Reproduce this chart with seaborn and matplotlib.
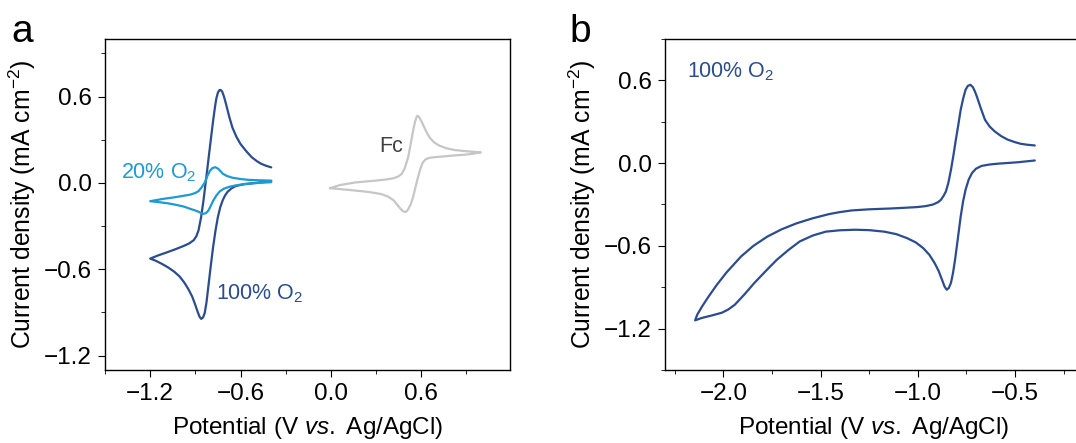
import matplotlib
matplotlib.use("Agg")
import matplotlib.pyplot as plt
import seaborn as sns
from matplotlib.ticker import MultipleLocator, FuncFormatter

# ---- data (potential in V vs Ag/AgCl, current in mA cm^-2) ----
# panel a, 100% O2: cathodic sweep from -0.4 V to the -1.2 V vertex, then back
o2_100_v = [-0.396, -0.461, -0.525, -0.580, -0.632, -0.660, -0.686, -0.703, -0.718, -0.735,
            -0.750, -0.766, -0.782, -0.798, -0.814, -0.826, -0.838, -0.849, -0.861, -0.872,
            -0.885, -0.903, -0.921, -0.948, -0.975, -1.005, -1.039, -1.080, -1.125, -1.165, -1.200,
            -1.150, -1.082, -1.030, -0.975, -0.940, -0.911, -0.893, -0.879, -0.862, -0.846,
            -0.830, -0.814, -0.798, -0.782, -0.770, -0.761, -0.750, -0.740, -0.733, -0.722,
            -0.710, -0.696, -0.675, -0.654, -0.627, -0.600, -0.560, -0.525, -0.490, -0.461,
            -0.430, -0.396]
o2_100_j = [0.012, 0.004, -0.003, -0.010, -0.022, -0.038, -0.062, -0.088, -0.120, -0.170,
            -0.235, -0.330, -0.445, -0.580, -0.722, -0.830, -0.905, -0.935, -0.945, -0.930,
            -0.895, -0.840, -0.790, -0.735, -0.690, -0.650, -0.618, -0.588, -0.561, -0.540, -0.526,
            -0.505, -0.480, -0.460, -0.437, -0.420, -0.398, -0.370, -0.330, -0.240, -0.122,
            0.015, 0.155, 0.295, 0.432, 0.525, 0.585, 0.628, 0.645, 0.646, 0.635,
            0.600, 0.547, 0.460, 0.385, 0.320, 0.270, 0.218, 0.178, 0.150, 0.132,
            0.119, 0.108]

# panel a, 20% O2
o2_20_v = [-0.396, -0.480, -0.568, -0.630, -0.675, -0.710, -0.739, -0.762, -0.782, -0.800,
           -0.814, -0.830, -0.846, -0.862, -0.880, -0.900, -0.940, -0.975, -1.030, -1.082,
           -1.140, -1.200,
           -1.120, -1.039, -0.980, -0.932, -0.900, -0.879, -0.857, -0.836, -0.820, -0.804,
           -0.785, -0.767, -0.748, -0.730, -0.718, -0.690, -0.654, -0.600, -0.546, -0.470, -0.396]
o2_20_j = [0.005, 0.000, -0.007, -0.017, -0.027, -0.040, -0.060, -0.090, -0.125, -0.165,
           -0.193, -0.210, -0.215, -0.210, -0.200, -0.192, -0.178, -0.165, -0.152, -0.142,
           -0.134, -0.127,
           -0.112, -0.100, -0.090, -0.081, -0.070, -0.057, -0.030, 0.005, 0.048, 0.083,
           0.104, 0.109, 0.098, 0.078, 0.064, 0.048, 0.036, 0.027, 0.021, 0.018, 0.016]

# panel a, ferrocene reference
fc_v = [-0.006, 0.060, 0.161, 0.289, 0.370, 0.418, 0.448, 0.471, 0.490, 0.505, 0.514, 0.530,
        0.546, 0.558, 0.568, 0.574, 0.584, 0.598, 0.611, 0.632, 0.654, 0.685, 0.718, 0.770,
        0.825, 0.900, 0.996,
        0.940, 0.889, 0.810, 0.739, 0.690, 0.654, 0.630, 0.611, 0.595, 0.579, 0.562, 0.546,
        0.530, 0.514, 0.503, 0.493, 0.478, 0.461, 0.440, 0.418, 0.380, 0.332, 0.250, 0.161,
        0.080, -0.006]
fc_j = [-0.037, -0.015, 0.003, 0.015, 0.024, 0.033, 0.045, 0.063, 0.100, 0.150, 0.180, 0.270,
        0.360, 0.420, 0.455, 0.466, 0.460, 0.435, 0.408, 0.360, 0.318, 0.282, 0.260, 0.240,
        0.228, 0.220, 0.212,
        0.202, 0.196, 0.190, 0.183, 0.179, 0.174, 0.164, 0.143, 0.100, 0.040, -0.030, -0.099,
        -0.150, -0.182, -0.198, -0.203, -0.195, -0.178, -0.150, -0.122, -0.095, -0.077, -0.063,
        -0.053, -0.045, -0.037]

# panel b, 100% O2 over the wide window
b_v = [-0.398, -0.487, -0.587, -0.630, -0.671, -0.700, -0.721, -0.738, -0.754, -0.767, -0.779,
       -0.794, -0.808, -0.819, -0.829, -0.840, -0.851, -0.862, -0.875, -0.893, -0.913, -0.940,
       -0.972, -1.010, -1.055, -1.110, -1.172, -1.250, -1.323, -1.400, -1.473, -1.540, -1.607,
       -1.665, -1.724, -1.780, -1.841, -1.890, -1.941, -1.975, -2.008, -2.060, -2.109, -2.145,
       -2.134, -2.109, -2.075, -2.033, -1.983, -1.908, -1.845, -1.774, -1.700, -1.624,
       -1.540, -1.457, -1.400, -1.339, -1.250, -1.139, -1.070, -1.005, -0.960, -0.921, -0.895,
       -0.880, -0.866, -0.855, -0.842, -0.829, -0.816, -0.804, -0.791, -0.779, -0.766, -0.754,
       -0.742, -0.729, -0.716, -0.706, -0.696, -0.675, -0.654, -0.630, -0.604, -0.570, -0.537,
       -0.500, -0.470, -0.435, -0.398]
b_j = [0.019, 0.006, -0.004, -0.010, -0.020, -0.040, -0.072, -0.120, -0.193, -0.280, -0.387,
       -0.550, -0.701, -0.800, -0.868, -0.905, -0.918, -0.895, -0.846, -0.780, -0.725, -0.665,
       -0.616, -0.575, -0.544, -0.515, -0.497, -0.486, -0.483, -0.487, -0.497, -0.525, -0.568,
       -0.630, -0.700, -0.780, -0.870, -0.950, -1.027, -1.062, -1.085, -1.105, -1.122, -1.140,
       -1.099, -1.039, -0.966, -0.882, -0.792, -0.676, -0.600, -0.533, -0.480, -0.437,
       -0.400, -0.370, -0.355, -0.343, -0.335, -0.329, -0.324, -0.319, -0.312, -0.300, -0.283,
       -0.265, -0.235, -0.205, -0.140, -0.048, 0.060, 0.169, 0.280, 0.387, 0.470, 0.532,
       0.560, 0.568, 0.550, 0.520, 0.483, 0.395, 0.314, 0.265, 0.230, 0.195, 0.170,
       0.152, 0.140, 0.133, 0.128]

DARK = "#2b4c8f"
LIGHT = "#1f9ad0"
GREY = "#c6c6c6"

sns.set_style("ticks")
plt.rcParams.update({
    "font.family": ["Liberation Sans", "DejaVu Sans"],
    "mathtext.fontset": "custom",
    "mathtext.rm": "Liberation Sans",
    "mathtext.it": "Liberation Sans:italic",
    "text.color": "black",
    "axes.labelcolor": "black",
    "axes.linewidth": 1.0,
    "axes.edgecolor": "black",
    "xtick.direction": "out",
    "ytick.direction": "out",
    "xtick.major.size": 5,
    "ytick.major.size": 5,
    "xtick.minor.size": 3,
    "ytick.minor.size": 3,
    "xtick.labelsize": 17.5,
    "ytick.labelsize": 17.5,
    "xtick.color": "black",
    "ytick.color": "black",
})


def minus_fmt(v, pos):
    s = f"{v:.1f}"
    if s == "-0.0":
        s = "0.0"
    return s.replace("-", "\u2212")


fig = plt.figure(figsize=(10.76, 4.43), dpi=100)
ax_a = fig.add_axes([0.0976, 0.1648, 0.3764, 0.7472])
ax_b = fig.add_axes([0.618, 0.1648, 0.3885, 0.7472])

lw = 1.6
kw = dict(sort=False, estimator=None, lw=lw, solid_joinstyle="round", solid_capstyle="round")
sns.lineplot(x=fc_v, y=fc_j, color=GREY, ax=ax_a, **kw)
sns.lineplot(x=o2_100_v, y=o2_100_j, color=DARK, ax=ax_a, **kw)
sns.lineplot(x=o2_20_v, y=o2_20_j, color=LIGHT, ax=ax_a, **kw)
sns.lineplot(x=b_v, y=b_j, color=DARK, ax=ax_b, **kw)

ax_a.set_xlim(-1.5, 1.19)
ax_a.set_ylim(-1.3, 1.0)
ax_a.xaxis.set_major_locator(MultipleLocator(0.6))
ax_a.xaxis.set_minor_locator(MultipleLocator(0.3))
ax_a.yaxis.set_major_locator(MultipleLocator(0.6))
ax_a.yaxis.set_minor_locator(MultipleLocator(0.3))

ax_b.set_xlim(-2.3, -0.15)
ax_b.set_ylim(-1.5, 0.9)
ax_b.xaxis.set_major_locator(MultipleLocator(0.5))
ax_b.xaxis.set_minor_locator(MultipleLocator(0.25))
ax_b.yaxis.set_major_locator(MultipleLocator(0.6))
ax_b.yaxis.set_minor_locator(MultipleLocator(0.3))

for ax in (ax_a, ax_b):
    ax.xaxis.set_major_formatter(FuncFormatter(minus_fmt))
    ax.yaxis.set_major_formatter(FuncFormatter(minus_fmt))
    ax.tick_params(which="both", top=False, right=False, pad=4.5)
    ax.set_xlabel(r"Potential (V $\mathit{vs.}$ Ag/AgCl)", fontsize=17.5, labelpad=7)
    ax.set_ylabel(r"Current density (mA cm$^{-2}$)", fontsize=17.8, labelpad=4)
    for s in ax.spines.values():
        s.set_visible(True)
        s.set_color("black")

ax_a.text(-0.893, 0.074, r"20% O$_2$", color=LIGHT, fontsize=15.5, ha="right", va="center")
ax_a.text(-0.76, -0.77, r"100% O$_2$", color=DARK, fontsize=15.5, ha="left", va="center")
ax_a.text(0.40, 0.25, "Fc", color="#404040", fontsize=15.5, ha="center", va="center")
ax_b.text(-2.185, 0.66, r"100% O$_2$", color=DARK, fontsize=15.5, ha="left", va="center")

fig.text(0.011, 0.905, "a", fontsize=28, color="black", ha="left", va="baseline")
fig.text(0.529, 0.905, "b", fontsize=28, color="black", ha="left", va="baseline")

fig.savefig("out.png", dpi=100)
